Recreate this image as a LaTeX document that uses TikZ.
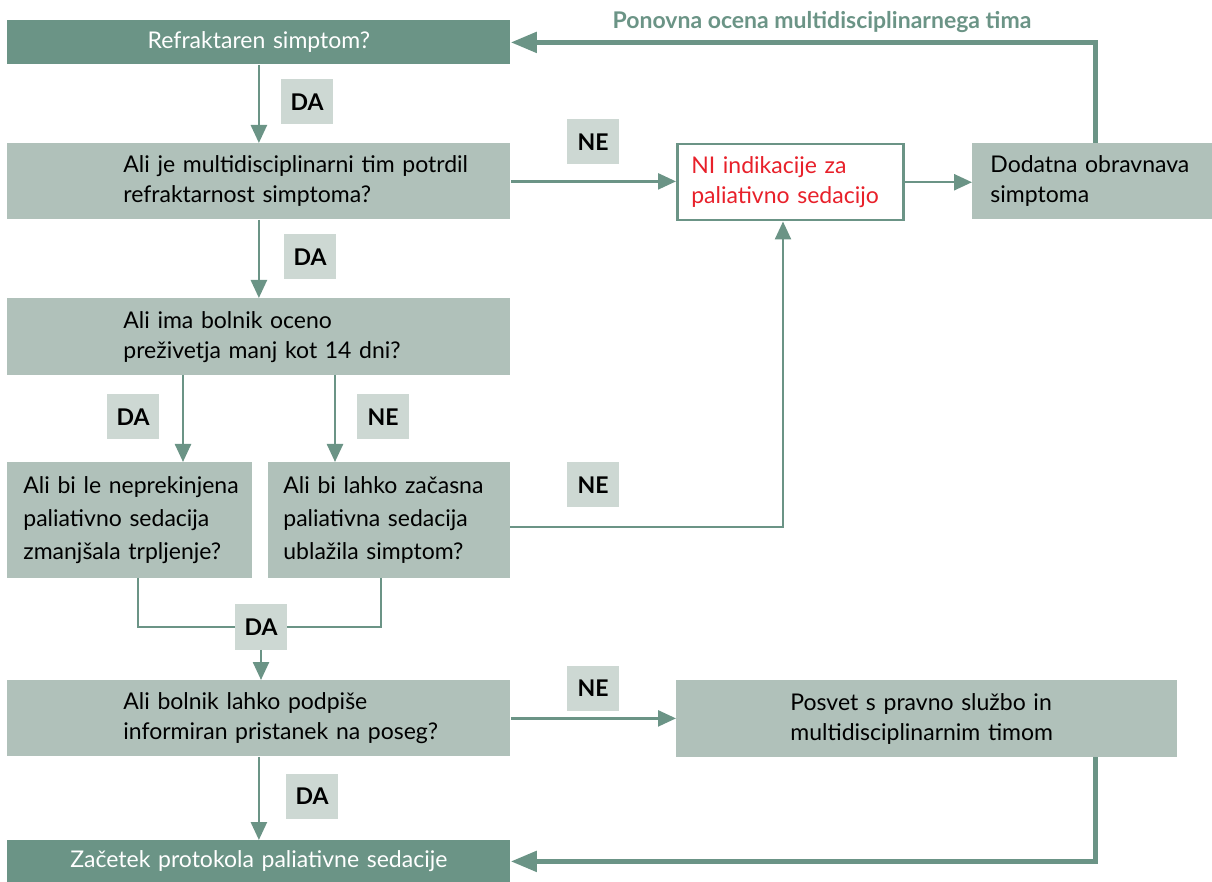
\documentclass[tikz,border=0pt]{standalone}
\usepackage{fontspec}
\setmainfont{Lato}
\usetikzlibrary{calc,arrows.meta}

\definecolor{darkgreen}{HTML}{6B9486}
\definecolor{boxgray}{HTML}{B0C1BA}
\definecolor{taggray}{HTML}{CDD8D3}
\definecolor{nired}{HTML}{E8202A}

\begin{document}
\begin{tikzpicture}[x=0.5pt, y=-0.5pt,
		box/.style={rectangle, inner sep=0pt, anchor=north west, font=\fontsize{11.5}{15}\selectfont},
		darkbox/.style={box, fill=darkgreen, text=white, align=center},
		graybox/.style={box, fill=boxgray, text=black, align=left},
		lpad/.style={execute at begin node={\leftskip=#1}},
		tag/.style={rectangle, fill=taggray, inner sep=0pt, minimum width=26pt, minimum height=22.5pt, font=\bfseries\fontsize{11.5}{13}\selectfont},
		flow/.style={draw=darkgreen, line width=1.25pt, -{Triangle[length=9pt,width=8pt]}},
		joint/.style={draw=darkgreen, line width=1.25pt},
		back/.style={draw=darkgreen, line width=2.5pt, -{Triangle[length=13pt,width=10pt]}}]
			\useasboundingbox (0,0) rectangle (1212,882);
			
			% Question boxes, left column
			\node[darkbox, text width=251.5pt, minimum height=22pt] (refr) at (7,20) {Refraktaren simptom?};
			\node[graybox, text width=251.5pt, minimum height=38pt, lpad=58pt] (tim) at (7,143)
				{Ali je multidisciplinarni tim potrdil\\refraktarnost simptoma?};
			\node[graybox, text width=251.5pt, minimum height=38.5pt, lpad=58pt] (prez) at (7,298)
				{Ali ima bolnik oceno\\preživetja manj kot 14 dni?};
			\node[graybox, text width=122.5pt, minimum height=58pt, lpad=8pt, font=\fontsize{11.5}{16.5}\selectfont] (nepr) at (7,462)
				{Ali bi le neprekinjena\\paliativno sedacija\\zmanjšala trpljenje?};
			\node[graybox, text width=121pt, minimum height=58pt, lpad=7.5pt, font=\fontsize{11.5}{16.5}\selectfont] (zac) at (268,462)
				{Ali bi lahko začasna\\paliativna sedacija\\ublažila simptom?};
			\node[graybox, text width=251.5pt, minimum height=38pt, lpad=58pt] (podp) at (7,680)
				{Ali bolnik lahko podpiše\\informiran pristanek na poseg?};
			\node[darkbox, text width=251.5pt, minimum height=21pt] (start) at (7,840) {Začetek protokola paliativne sedacije};
			
			% Boxes on the right
			\node[box, draw=darkgreen, line width=1.25pt, fill=white, text=nired, align=left, text width=113pt, minimum height=38pt, lpad=7pt] (ni) at (676,143)
				{NI indikacije za\\paliativno sedacijo};
			\node[graybox, text width=120pt, minimum height=38pt, lpad=9pt] (dod) at (972,143)
				{Dodatna obravnava\\simptoma};
			\node[graybox, text width=250.5pt, minimum height=38.5pt, lpad=57pt] (posvet) at (676,680)
				{Posvet s pravno službo in\\multidisciplinarnim timom};
			
			\node[font=\bfseries\fontsize{11.5}{13}\selectfont, text=darkgreen] (ponovna) at (822,22) {Ponovna ocena multidisciplinarnega tima};
			
			% Answer tags
			\node[tag] (da1) at (307,102) {DA};
			\node[tag] (ne1) at (593,142) {NE};
			\node[tag] (da2) at (310,257) {DA};
			\node[tag] (da3) at (133,417) {DA};
			\node[tag] (ne2) at (383,417) {NE};
			\node[tag] (ne3) at (593,485) {NE};
			\node[tag] (da4) at (261,627) {DA};
			\node[tag] (ne4) at (593,688) {NE};
			\node[tag] (da5) at (312,796) {DA};
			
			% Free ends of connectors
			\coordinate (d1) at (183,375);
			\coordinate (d2) at (335,375);
			\coordinate (m1) at (138,578);
			\coordinate (m2) at (381,578);
			\coordinate (p1) at (1095,757);
			\coordinate (z1) at (510,527);
			
			% Connectors
			\draw[flow] (refr) -- (tim);
			\draw[flow] (tim.east) -- (tim.east -| ni.west);
			\draw[flow] (ni.east) -- (ni.east -| dod.west);
			\draw[back] (dod.north -| p1) |- (refr.east);
			\draw[flow] (tim) -- (prez);
			\draw[flow] (d1) -- (d1 |- nepr.north);
			\draw[flow] (d2) -- (d2 |- zac.north);
			\draw[flow] (z1) -| (ni.south -| 783,0);
			\draw[joint] (m1) |- (da4.west);
			\draw[joint] (m2) |- (da4.east);
			\draw[flow] (da4.south) -- (da4.south |- podp.north);
			\draw[flow] (podp.east) -- (podp.east -| posvet.west);
			\draw[flow] (podp) -- (start);
			\draw[back] (p1) |- (start.east);
	\end{tikzpicture}
\end{document}
